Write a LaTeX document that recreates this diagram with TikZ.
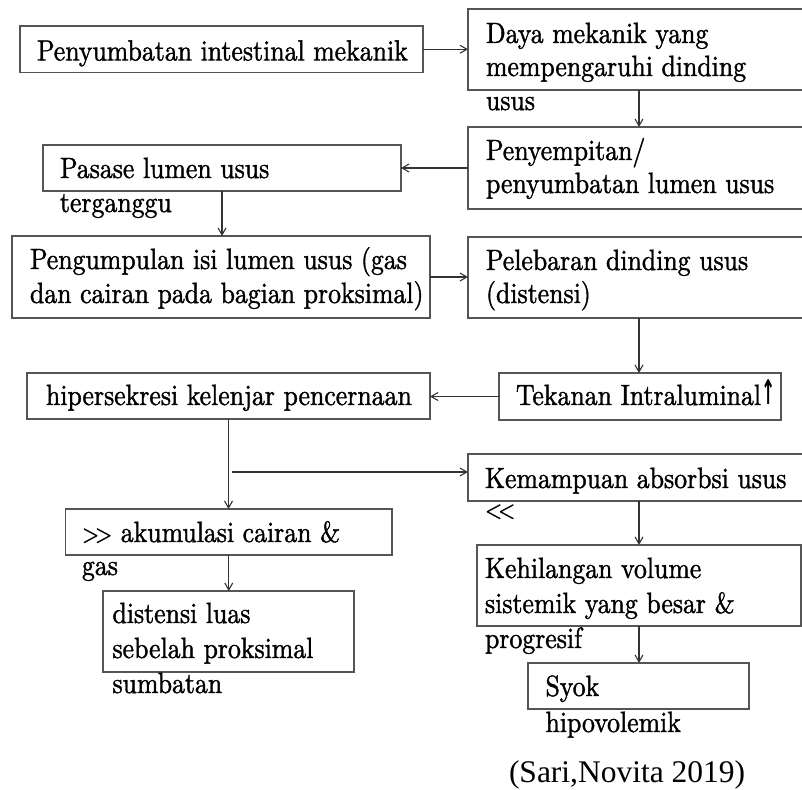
\documentclass[tikz,border=0pt]{standalone}
\usepackage{fontspec}
\setmainfont{lmroman10-regular.otf}[FakeStretch=0.88, FakeBold=1.3]
\newfontfamily\capfont{Liberation Serif}
\newfontfamily\arrfont{DejaVu Sans}[FakeStretch=0.5]
\usetikzlibrary{arrows.meta}
\definecolor{boxline}{HTML}{555555}
\definecolor{arrline}{HTML}{333333}
\tikzset{
  box/.style={draw=boxline, line width=1.2pt, inner sep=0pt, outer sep=0pt, rectangle},
  arr/.style={draw=arrline, line width=1.1pt, -{Straight Barb[length=7pt,width=8pt]}},
  txt/.style={anchor=base west, inner sep=0pt, outer sep=0pt, font=\fontsize{29.3}{33}\selectfont},
  captxt/.style={anchor=base west, inner sep=0pt, outer sep=0pt, font=\capfont\fontsize{31.5}{34}\selectfont}
}
\newcommand\mkbox[5]{\node[box, minimum width={(#4-#2)*1pt}, minimum height={(#5-#3)*1pt}] (#1) at ({(#2+#4)/2},{(#3+#5)/2}) {};}
\newcommand\txtline[4]{\node[txt] (#1) at (#2,#3) {#4};}
\newcommand\chev[1]{{\fontsize{25}{25}\selectfont #1\kern-4pt#1}}
\begin{document}
\begin{tikzpicture}[x=1pt,y=-1pt]
\useasboundingbox (0,0) rectangle (802,789);
\clip (0,0) rectangle (802,789);
% boxes
\mkbox{b1}{20}{26}{423}{72.5}
\mkbox{b2}{468}{9}{810}{90}
\mkbox{b3}{468}{127}{810}{209}
\mkbox{b4}{43}{145}{401}{191}
\mkbox{b5}{12}{236}{430}{318}
\mkbox{b6}{468}{237}{810}{318}
\mkbox{b7}{499}{373}{781}{420}
\mkbox{b8}{27}{373}{430}{419}
\mkbox{b9}{468}{454}{810}{501}
\mkbox{b10}{65.5}{509}{392}{555}
\mkbox{b11}{103}{591}{354}{672}
\mkbox{b12}{477}{545}{801}{626}
\mkbox{b13}{528}{663}{749}{709}
% connectors
\draw[arr] (b1.east) -- (b1.east -| b2.west);
\draw[arr] (b2.south) -- (b2.south |- b3.north);
\draw[arr] (b3.west) -- (b3.west -| b4.east);
\draw[arr] (b4.south) -- (b4.south |- b5.north);
\draw[arr] (b5.east) -- (b5.east -| b6.west);
\draw[arr] (b6.south) -- (b6.south |- b7.north);
\draw[arr] (b7.west) -- (b7.west -| b8.east);
\draw[arr] (b8.south) -- (b8.south |- b10.north);
\coordinate (brY) at (0,472);
\coordinate (br) at ([xshift=3pt]b8.south |- brY);
\draw[arr] (br) -- (br -| b9.west);
\draw[arr] (b9.south) -- (b9.south |- b12.north);
\draw[arr] (b10.south) -- (b10.south |- b11.north);
\draw[arr] (b12.south) -- (b12.south |- b13.north);
% texts
\txtline{t1}{37}{60.5}{Penyumbatan intestinal mekanik}
\txtline{t2a}{486}{43}{Daya mekanik yang}
\txtline{t2b}{486}{76}{mempengaruhi dinding}
\txtline{t2c}{486}{110}{usus}
\txtline{t3a}{486}{160}{Penyempitan/}
\txtline{t3b}{486}{193}{penyumbatan lumen usus}
\txtline{t4a}{60}{178}{Pasase lumen usus}
\txtline{t4b}{60}{212}{terganggu}
\txtline{t5a}{30}{269}{Pengumpulan isi lumen usus (gas}
\txtline{t5b}{30}{303}{dan cairan pada bagian proksimal)}
\txtline{t6a}{486}{270}{Pelebaran dinding usus}
\txtline{t6b}{486}{303}{(distensi)}
\txtline{t7}{516}{405}{Tekanan Intraluminal{\arrfont\bfseries\fontsize{34}{34}\selectfont\raisebox{1pt}{↑}}}
\txtline{t8}{46}{405}{hipersekresi kelenjar pencernaan}
\txtline{t9a}{485}{488}{Kemampuan absorbsi usus}
\txtline{t9b}{485}{518}{\chev{<}}
\txtline{t10a}{82}{542}{\chev{>} akumulasi cairan \&}
\txtline{t10b}{82}{575}{gas}
\txtline{t11a}{112.5}{623}{distensi luas}
\txtline{t11b}{112.5}{658}{sebelah proksimal}
\txtline{t11c}{112.5}{693}{sumbatan}
\txtline{t12a}{485}{578}{Kehilangan volume}
\txtline{t12b}{485}{613}{sistemik yang besar \&}
\txtline{t12c}{485}{648}{progresif}
\txtline{t13a}{545.5}{696}{Syok}
\txtline{t13b}{545.5}{732}{hipovolemik}
\node[captxt] (cap) at (509,782) {(Sari,Novita 2019)};
\end{tikzpicture}
\end{document}
